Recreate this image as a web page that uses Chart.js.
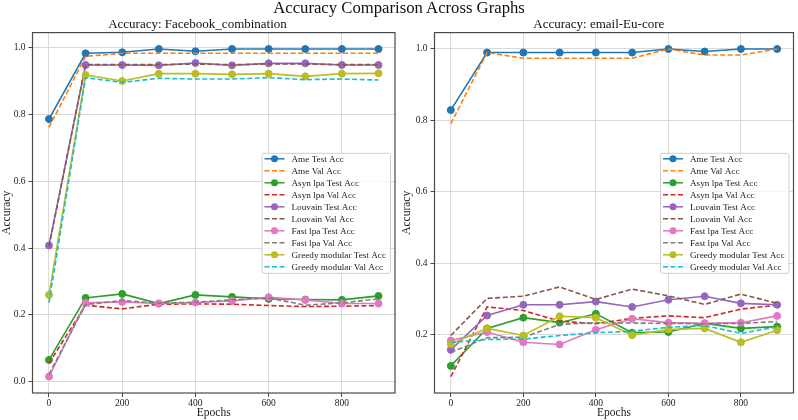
<!DOCTYPE html>
<html>
<head>
<meta charset="utf-8">
<title>Accuracy Comparison Across Graphs</title>
<script src="https://cdn.jsdelivr.net/npm/chart.js@4.4.1/dist/chart.umd.min.js"></script>
<style>
  html, body { margin: 0; padding: 0; background: #fff; }
  #wrap { position: relative; width: 798px; height: 420px; overflow: hidden; font-family: "Liberation Serif", "DejaVu Serif", serif; }
  #suptitle { position: absolute; left: 0; top: -2px; width: 798px; text-align: center; font-size: 16.7px; color: #111; }
  canvas { position: absolute; top: 0; }
</style>
</head>
<body>
<div id="wrap">
  <canvas id="left" width="400" height="420" style="left:0"></canvas>
  <canvas id="right" width="398" height="420" style="left:400px"></canvas>
  <div id="suptitle">Accuracy Comparison Across Graphs</div>
</div>
<script>
// --- data -----------------------------------------------------------
const epochs = [0, 100, 200, 300, 400, 500, 600, 700, 800, 900];
const xTicks = [0, 200, 400, 600, 800];
const leftYTicks = [0.0, 0.2, 0.4, 0.6, 0.8, 1.0];
const rightYTicks = [0.2, 0.4, 0.6, 0.8, 1.0];

const seriesNames = [
  'Ame Test Acc', 'Ame Val Acc',
  'Asyn lpa Test Acc', 'Asyn lpa Val Acc',
  'Louvain Test Acc', 'Louvain Val Acc',
  'Fast lpa Test Acc', 'Fast lpa Val Acc',
  'Greedy modular Test Acc', 'Greedy modular Val Acc'
];
const seriesColors = [
  '#1f77b4', '#ff7f0e', '#2ca02c', '#d62728', '#9467bd',
  '#8c564b', '#e377c2', '#7f7f7f', '#bcbd22', '#17becf'
];

// Facebook_combination
const fbAmeTest     = [0.787, 0.984, 0.987, 0.997, 0.990, 0.997, 0.997, 0.997, 0.997, 0.997];
const fbAmeVal      = [0.762, 0.975, 0.984, 0.984, 0.984, 0.984, 0.984, 0.984, 0.984, 0.984];
const fbAsynTest    = [0.065, 0.251, 0.263, 0.234, 0.260, 0.254, 0.248, 0.246, 0.245, 0.257];
const fbAsynVal     = [0.055, 0.229, 0.218, 0.232, 0.233, 0.232, 0.228, 0.225, 0.226, 0.228];
const fbLouvainTest = [0.408, 0.949, 0.949, 0.948, 0.955, 0.948, 0.954, 0.954, 0.949, 0.949];
const fbLouvainVal  = [0.405, 0.950, 0.950, 0.950, 0.952, 0.950, 0.952, 0.952, 0.950, 0.950];
const fbFastTest    = [0.015, 0.236, 0.239, 0.234, 0.237, 0.242, 0.253, 0.245, 0.234, 0.234];
const fbFastVal     = [0.022, 0.231, 0.243, 0.235, 0.238, 0.245, 0.251, 0.229, 0.236, 0.248];
const fbGreedyTest  = [0.260, 0.919, 0.901, 0.923, 0.923, 0.921, 0.923, 0.915, 0.923, 0.924];
const fbGreedyVal   = [0.237, 0.911, 0.897, 0.909, 0.907, 0.907, 0.911, 0.905, 0.907, 0.904];

// email-Eu-core
const euAmeTest     = [0.829, 0.990, 0.990, 0.990, 0.990, 0.990, 1.000, 0.993, 1.000, 1.000];
const euAmeVal      = [0.791, 0.990, 0.974, 0.974, 0.974, 0.974, 1.000, 0.983, 0.983, 1.000];
const euAsynTest    = [0.113, 0.218, 0.248, 0.234, 0.259, 0.206, 0.208, 0.232, 0.218, 0.223];
const euAsynVal     = [0.083, 0.278, 0.268, 0.238, 0.231, 0.246, 0.253, 0.248, 0.272, 0.283];
const euLouvainTest = [0.158, 0.254, 0.284, 0.284, 0.293, 0.278, 0.298, 0.308, 0.288, 0.284];
const euLouvainVal  = [0.198, 0.302, 0.308, 0.334, 0.299, 0.328, 0.309, 0.285, 0.314, 0.288];
const euFastTest    = [0.184, 0.208, 0.179, 0.173, 0.214, 0.245, 0.234, 0.232, 0.234, 0.253];
const euFastVal     = [0.151, 0.192, 0.193, 0.229, 0.234, 0.233, 0.232, 0.231, 0.232, 0.237];
const euGreedyTest  = [0.174, 0.218, 0.198, 0.252, 0.248, 0.199, 0.215, 0.218, 0.179, 0.213];
const euGreedyVal   = [0.179, 0.187, 0.188, 0.198, 0.206, 0.210, 0.221, 0.226, 0.204, 0.222];

const fbSeries = [fbAmeTest, fbAmeVal, fbAsynTest, fbAsynVal, fbLouvainTest,
  fbLouvainVal, fbFastTest, fbFastVal, fbGreedyTest, fbGreedyVal];
const euSeries = [euAmeTest, euAmeVal, euAsynTest, euAsynVal, euLouvainTest,
  euLouvainVal, euFastTest, euFastVal, euGreedyTest, euGreedyVal];

// --- helpers --------------------------------------------------------
Chart.defaults.font.family = '"Liberation Serif", "DejaVu Serif", serif';
Chart.defaults.color = '#222';

const FRAME = '#4a4a4a';
const GRID = '#d9d9d9';

// matplotlib style 5% margins
function limits(arrs) {
  const all = arrs.flat();
  const lo = Math.min(...all), hi = Math.max(...all);
  const pad = (hi - lo) * 0.05;
  return [lo - pad, hi + pad];
}

function buildDatasets(values) {
  return values.map((vals, i) => {
    const isVal = i % 2 === 1;
    return {
      label: seriesNames[i],
      data: epochs.map((e, j) => ({ x: e, y: vals[j] })),
      borderColor: seriesColors[i],
      backgroundColor: seriesColors[i],
      borderWidth: 1.6,
      borderDash: isVal ? [5, 2.5] : [],
      pointRadius: isVal ? 0 : 3.5,
      pointHoverRadius: 0,
      pointBorderWidth: 1,
      pointBorderColor: seriesColors[i],
      pointBackgroundColor: seriesColors[i],
      tension: 0,
      fill: false,
      order: values.length - i   // later series on top, like matplotlib
    };
  });
}

// legend box in the right-centre of the plot area
const boxLegend = {
  id: 'boxLegend',
  afterDatasetsDraw(chart) {
    const { ctx, chartArea } = chart;
    const ds = chart.data.datasets;
    const rowH = 12;
    ctx.save();
    ctx.font = '9.2px "Liberation Serif"';
    const textW = Math.max(...ds.map(d => ctx.measureText(d.label).width));
    const w = 30 + textW + 4;
    const h = ds.length * rowH;
    const x = chartArea.right - 5 - w;
    const y = (chartArea.top + chartArea.bottom) / 2 - h / 2;

    ctx.fillStyle = 'rgba(255,255,255,0.8)';
    ctx.strokeStyle = '#cfcfcf';
    ctx.lineWidth = 1;
    ctx.beginPath();
    ctx.roundRect(x + 0.5, y + 0.5, w, h, 2);
    ctx.fill();
    ctx.stroke();

    ds.forEach((d, i) => {
      const cy = y + 6 + rowH * i;
      ctx.strokeStyle = d.borderColor;
      ctx.lineWidth = 1.5;
      ctx.setLineDash(d.borderDash);
      ctx.beginPath();
      ctx.moveTo(x + 3, cy);
      ctx.lineTo(x + 23, cy);
      ctx.stroke();
      ctx.setLineDash([]);
      if (d.pointRadius > 0) {
        ctx.fillStyle = d.borderColor;
        ctx.beginPath();
        ctx.arc(x + 13, cy, 3.5, 0, Math.PI * 2);
        ctx.fill();
      }
      ctx.fillStyle = '#222';
      ctx.textBaseline = 'middle';
      ctx.textAlign = 'left';
      ctx.fillText(d.label, x + 30, cy + 0.5);
    });
    ctx.restore();
  }
};

// full box around the axes
const frame = {
  id: 'frame',
  afterDraw(chart) {
    const { ctx, chartArea: a } = chart;
    ctx.save();
    ctx.strokeStyle = FRAME;
    ctx.lineWidth = 1.2;
    ctx.strokeRect(a.left, a.top, a.right - a.left, a.bottom - a.top);
    ctx.restore();
  }
};

function makeChart(id, title, series, yTicks, yWidth, padRight) {
  const [yMin, yMax] = limits(series);
  const [xMin, xMax] = limits([epochs]);
  return new Chart(document.getElementById(id), {
    type: 'line',
    data: { datasets: buildDatasets(series) },
    plugins: [boxLegend, frame],
    options: {
      responsive: false,
      animation: false,
      layout: { padding: { left: 0, right: padRight, top: 0, bottom: 0 } },
      plugins: {
        legend: { display: false },
        tooltip: { enabled: false },
        title: {
          display: true,
          text: title,
          color: '#111',
          font: { size: 13, weight: 'normal' },
          padding: { top: 17, bottom: 0 }
        }
      },
      scales: {
        x: {
          type: 'linear',
          min: xMin,
          max: xMax,
          afterBuildTicks: s => { s.ticks = xTicks.map(v => ({ value: v })); },
          afterFit: s => { s.height = 27; },
          ticks: { font: { size: 9.5 }, color: '#222', padding: 1, maxRotation: 0, callback: v => String(v) },
          grid: { color: GRID, tickColor: FRAME, tickLength: 4, lineWidth: 1 },
          border: { display: false },
          title: { display: true, text: 'Epochs', font: { size: 11.5 }, color: '#222', padding: 0 }
        },
        y: {
          type: 'linear',
          min: yMin,
          max: yMax,
          afterBuildTicks: s => { s.ticks = yTicks.map(v => ({ value: v })); },
          afterFit: s => { s.width = yWidth; },
          ticks: { font: { size: 9.5 }, color: '#222', padding: 3, callback: v => v.toFixed(1) },
          grid: { color: GRID, tickColor: FRAME, tickLength: 4, lineWidth: 1 },
          border: { display: false },
          title: { display: true, text: 'Accuracy', font: { size: 11.5 }, color: '#222', padding: 0 }
        }
      }
    }
  });
}

makeChart('left', 'Accuracy: Facebook_combination', fbSeries, leftYTicks, 32.5, 5);
makeChart('right', 'Accuracy: email-Eu-core', euSeries, rightYTicks, 34.5, 0.5);
</script>
</body>
</html>
